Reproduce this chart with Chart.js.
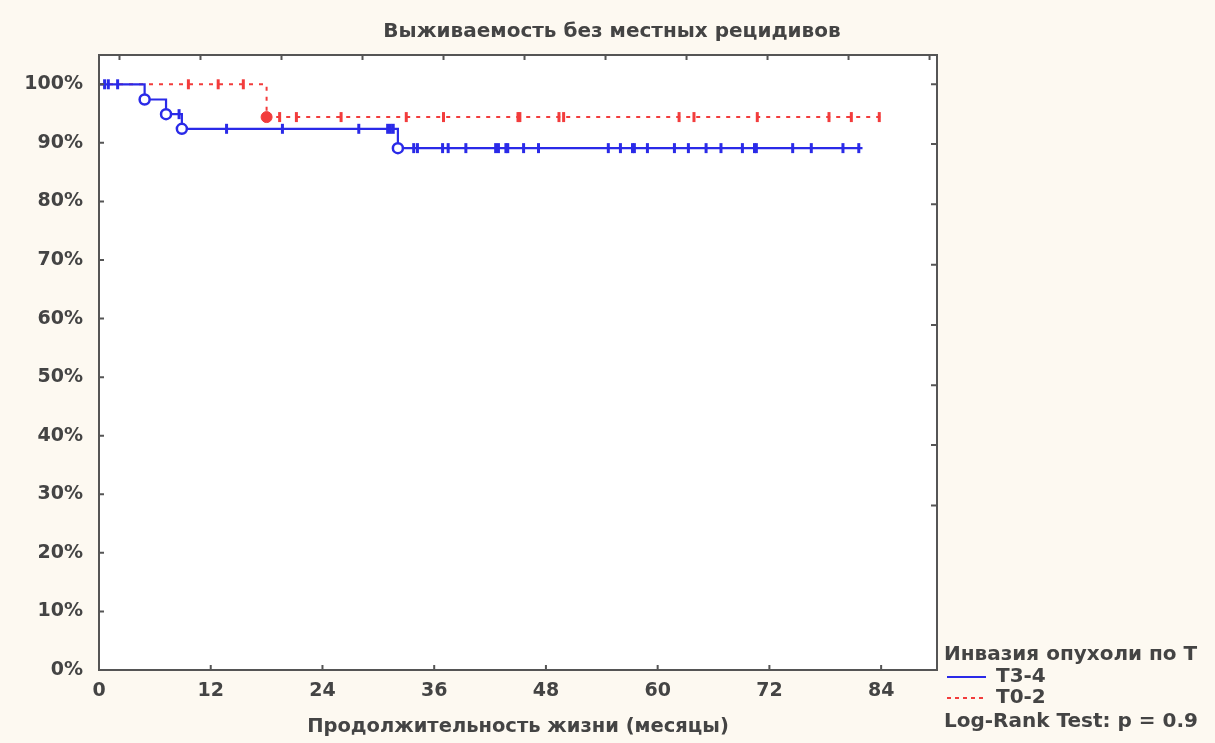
<!DOCTYPE html>
<html>
<head>
<meta charset="utf-8">
<script src="https://cdn.jsdelivr.net/npm/chart.js@4.4.0/dist/chart.umd.min.js"></script>
<style>
    html, body { margin: 0; padding: 0; background: #fdf9f1; }
    #wrap { width: 1215px; height: 743px; }
</style>
</head>
<body>
<div id="wrap"><canvas id="myChart" width="1215" height="743"></canvas></div>
<script>
// T3-4 (blue) - steps (month, survival %)
const blueEventMonths = [4.9, 7.2, 8.9, 32.1]
const blueEventSurv = [97.4, 94.9, 92.4, 89.1]
const blueLastMonth = 82
const blueCensorMonths = [0.6, 1.0, 2.0, 8.6, 13.7, 19.7, 27.9, 31.0, 31.3, 31.6, 33.8, 34.2, 36.9, 37.5, 39.4,
    42.6, 42.9, 43.7, 43.9, 45.6, 47.2, 54.7, 56.0, 57.3, 57.5, 58.9, 61.8, 63.3, 65.2, 66.8, 69.1, 70.4, 70.6,
    74.5, 76.5, 79.9, 81.6]

// T0-2 (red)
const redEventMonths = [18.0]
const redEventSurv = [94.4]
const redLastMonth = 84
const redCensorMonths = [9.6, 12.8, 15.5, 19.4, 21.2, 26.0, 33.0, 37.0, 45.0, 45.2, 49.4, 49.9, 62.3, 63.9,
    70.7, 78.4, 80.8, 83.8]

// axis ticks
const xTickLabels = [0, 12, 24, 36, 48, 60, 72, 84]
const yTickLabels = [0, 10, 20, 30, 40, 50, 60, 70, 80, 90, 100]
const topTickMarks = [2.2, 10.9, 19.6, 28.3, 37.0, 45.7, 54.4, 63.1, 71.8, 80.5, 89.2]
const rightTickMarks = [100, 89.8, 79.5, 69.2, 58.9, 48.6, 38.4, 28.1]

const blueColor = '#2a2ae8'
const redColor = '#f23c3c'
const textColor = '#444444'
const fontFamily = "'DejaVu Sans', sans-serif"

// survival level at a given month
const survAt = (t, evT, evS) => {
    let s = 100
    evT.forEach((e, i) => { if (e <= t) s = evS[i] })
    return s
}

const curvePoints = (evT, evS, last) => {
    let pts = [{ x: 0, y: 100 }]
    evT.forEach((e, i) => pts.push({ x: e, y: evS[i] }))
    pts.push({ x: last, y: evS[evS.length - 1] })
    return pts
}

const blueCurve = curvePoints(blueEventMonths, blueEventSurv, blueLastMonth)
const redCurve = curvePoints(redEventMonths, redEventSurv, redLastMonth)
const blueCensors = blueCensorMonths.map((t) => ({ x: t, y: survAt(t, blueEventMonths, blueEventSurv) }))
const redCensors = redCensorMonths.map((t) => ({ x: t, y: survAt(t, redEventMonths, redEventSurv) }))
const blueEvents = blueEventMonths.map((t, i) => ({ x: t, y: blueEventSurv[i] }))
const redEvents = redEventMonths.map((t, i) => ({ x: t, y: redEventSurv[i] }))

// background, frame, inward ticks, title and legend text
const decorPlugin = {
    id: 'decor',
    beforeDraw(chart) {
        const { ctx, chartArea: a } = chart
        ctx.save()
        ctx.fillStyle = '#fdf9f1'
        ctx.fillRect(0, 0, chart.width, chart.height)
        ctx.fillStyle = '#ffffff'
        ctx.fillRect(a.left, a.top, a.right - a.left, a.bottom - a.top)
        ctx.restore()
    },
    afterDraw(chart) {
        const { ctx, chartArea: a, scales } = chart
        ctx.save()
        ctx.strokeStyle = '#555555'
        ctx.lineWidth = 2
        ctx.strokeRect(a.left, a.top, a.right - a.left, a.bottom - a.top)
        ctx.beginPath()
        xTickLabels.forEach((v) => {
            const x = scales.x.getPixelForValue(v)
            ctx.moveTo(x, a.bottom); ctx.lineTo(x, a.bottom - 5)
        })
        topTickMarks.forEach((v) => {
            const x = scales.x.getPixelForValue(v)
            ctx.moveTo(x, a.top); ctx.lineTo(x, a.top + 5)
        })
        yTickLabels.forEach((v) => {
            const y = scales.y.getPixelForValue(v)
            ctx.moveTo(a.left, y); ctx.lineTo(a.left + 5, y)
        })
        rightTickMarks.forEach((v) => {
            const y = scales.y.getPixelForValue(v)
            ctx.moveTo(a.right, y); ctx.lineTo(a.right - 6, y)
        })
        ctx.stroke()

        ctx.fillStyle = textColor
        ctx.textBaseline = 'middle'
        ctx.font = 'bold 20px ' + fontFamily
        ctx.textAlign = 'center'
        ctx.fillText('Выживаемость без местных рецидивов', 612, 32)

        ctx.textAlign = 'left'
        ctx.font = 'bold 20px ' + fontFamily
        ctx.fillText('Инвазия опухоли по Т', 944, 655)
        ctx.fillText('T3-4', 996, 677)
        ctx.fillText('T0-2', 996, 698)
        ctx.fillText('Log-Rank Test: p = 0.9', 944, 722)

        ctx.lineWidth = 2
        ctx.strokeStyle = blueColor
        ctx.beginPath(); ctx.moveTo(947, 677); ctx.lineTo(986, 677); ctx.stroke()
        ctx.strokeStyle = redColor
        ctx.setLineDash([4, 4])
        ctx.beginPath(); ctx.moveTo(947, 698); ctx.lineTo(986, 698); ctx.stroke()
        ctx.restore()
    }
}

const censorStyle = (color) => ({
    showLine: false,
    pointStyle: 'line',
    rotation: 90,
    pointRadius: 5,
    pointHoverRadius: 5,
    borderColor: color,
    borderWidth: 3
})

function configGraphAndRender() {
    const grafica = document.querySelector('#myChart')
    const data = {
        datasets: [
            { data: blueEvents, showLine: false, pointStyle: 'circle', pointRadius: 5,
              borderColor: blueColor, backgroundColor: '#ffffff', borderWidth: 2.5 },
            { data: blueCensors, ...censorStyle(blueColor) },
            { data: blueCurve, showLine: true, stepped: 'before', borderColor: blueColor,
              borderWidth: 2.2, pointRadius: 0 },
            { data: redEvents, showLine: false, pointStyle: 'circle', pointRadius: 5.5,
              borderColor: redColor, backgroundColor: redColor, borderWidth: 1 },
            { data: redCensors, ...censorStyle(redColor) },
            { data: redCurve, showLine: true, stepped: 'before', borderColor: redColor,
              borderWidth: 2, borderDash: [4, 6], pointRadius: 0 }
        ]
    }
    const config = {
        type: 'scatter',
        data: data,
        options: {
            responsive: false,
            animation: false,
            layout: { padding: { top: 55, right: 278, left: 0, bottom: 0 } },
            plugins: { legend: { display: false }, tooltip: { enabled: false }, title: { display: false } },
            scales: {
                x: {
                    type: 'linear', min: 0, max: 90,
                    grid: { display: false },
                    border: { display: false },
                    afterBuildTicks: (scale) => { scale.ticks = xTickLabels.map((v) => ({ value: v })) },
                    afterFit: (scale) => { scale.height = 73 },
                    ticks: { padding: 2, color: textColor, font: { family: fontFamily, size: 19, weight: 'bold' },
                             maxRotation: 0 },
                    title: { display: true, text: 'Продолжительность жизни (месяцы)', color: textColor,
                             font: { family: fontFamily, size: 19.5, weight: 'bold' } }
                },
                y: {
                    type: 'linear', min: 0, max: 105,
                    grid: { display: false },
                    border: { display: false },
                    afterBuildTicks: (scale) => { scale.ticks = yTickLabels.map((v) => ({ value: v })) },
                    afterFit: (scale) => { scale.width = 99 },
                    ticks: { padding: 8, color: textColor, font: { family: fontFamily, size: 19, weight: 'bold' },
                             callback: (v) => v + '%' }
                }
            }
        },
        plugins: [decorPlugin]
    }
    new Chart(grafica, config)
}

document.addEventListener('DOMContentLoaded', (event) => {
    configGraphAndRender()
})
</script>
</body>
</html>
